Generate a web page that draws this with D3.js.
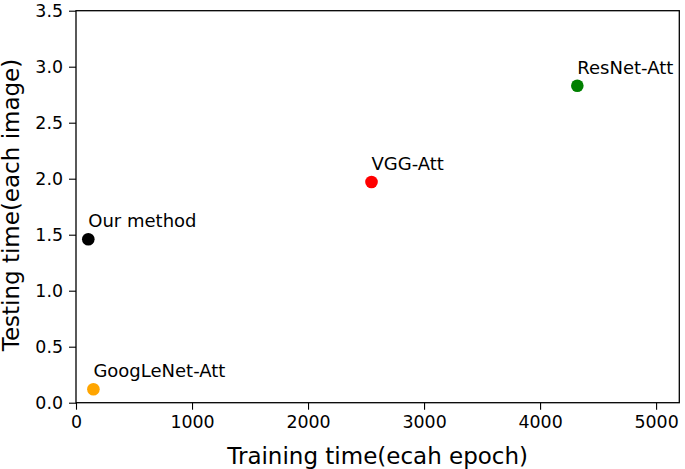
<!DOCTYPE html>
<html>
<head>
<meta charset="utf-8">
<script src="https://cdn.jsdelivr.net/npm/d3@7"></script>
<style>
  html, body { margin: 0; padding: 0; background: #fff; }
  svg { display: block; font-family: "DejaVu Sans", sans-serif; }
</style>
</head>
<body>
<svg id="chart" width="685" height="469"></svg>
<script>
const methods = ["Our method", "GoogLeNet-Att", "VGG-Att", "ResNet-Att"];
const trainTimes = [106, 150, 2547, 4321];
const testTimes = [1.46, 0.12, 1.97, 2.83];
const colors = ["#000000", "#FFA500", "#FF0000", "#008000"];
const xTicks = [0, 1000, 2000, 3000, 4000, 5000];
const yTicks = [0.0, 0.5, 1.0, 1.5, 2.0, 2.5, 3.0, 3.5];
const xDomain = [0, 5200];
const yDomain = [0, 3.5];

const svg = d3.select("#chart");
const L = 76, R = 679.3, T = 10.7, B = 402.7;

const x = d3.scaleLinear().domain(xDomain).range([L, R]);
const y = d3.scaleLinear().domain(yDomain).range([B, T]);

const xAxis = svg.append("g").attr("transform", `translate(0,${B})`)
  .call(d3.axisBottom(x).tickValues(xTicks).tickFormat(d3.format("d")).tickSize(7).tickPadding(6));
const yAxis = svg.append("g").attr("transform", `translate(${L},0)`)
  .call(d3.axisLeft(y).tickValues(yTicks).tickFormat(d3.format(".1f")).tickSize(7).tickPadding(6));

[xAxis, yAxis].forEach(g => {
  g.select(".domain").remove();
  g.selectAll(".tick line").attr("stroke", "#000").attr("stroke-width", 1.1);
  g.selectAll(".tick text").attr("fill", "#000").style("font-size", "17.4px")
    .style("font-family", "DejaVu Sans");
});

// frame
svg.append("rect").attr("x", L).attr("y", T).attr("width", R - L).attr("height", B - T)
  .attr("fill", "none").attr("stroke", "#000").attr("stroke-width", 1.3);

const data = methods.map((m, i) => ({ m, tx: trainTimes[i], ty: testTimes[i], c: colors[i] }));

svg.append("g").selectAll("circle").data(data).join("circle")
  .attr("cx", d => x(d.tx)).attr("cy", d => y(d.ty)).attr("r", 6.3)
  .attr("fill", d => d.c);

svg.append("g").selectAll("text").data(data).join("text")
  .attr("x", d => x(d.tx)).attr("y", d => y(d.ty) - 12)
  .style("font-size", "18px").attr("fill", "#000")
  .text(d => d.m);

svg.append("text").attr("x", (L + R) / 2).attr("y", 464)
  .attr("text-anchor", "middle").style("font-size", "23px").attr("fill", "#000")
  .text("Training time(ecah epoch)");

svg.append("text").attr("transform", `translate(18.5,205) rotate(-90)`)
  .attr("text-anchor", "middle").style("font-size", "23px").attr("fill", "#000")
  .text("Testing time(each image)");
</script>
</body>
</html>
